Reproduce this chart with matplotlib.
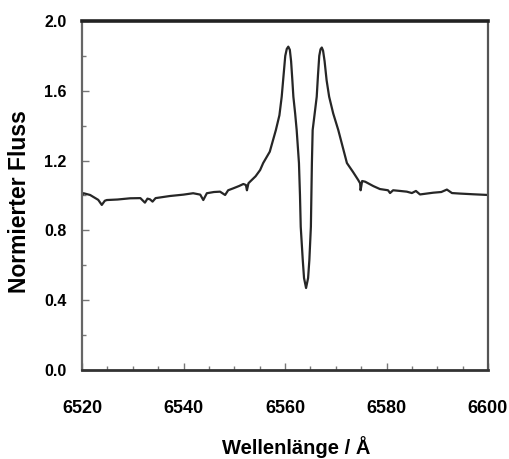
import matplotlib.pyplot as plt
from matplotlib.ticker import MultipleLocator

# spectrum (wavelength in Angstrom, normalised flux)
wavelength = [6520.0, 6520.3, 6521.6, 6523.2, 6523.9, 6524.5, 6524.9, 6527.0, 6529.5,
              6531.5, 6532.4, 6532.9, 6533.4, 6533.9, 6534.5, 6537.3, 6540.0, 6541.9,
              6543.3, 6543.9, 6544.6, 6546.0, 6547.2, 6548.2, 6548.8, 6549.8, 6551.0,
              6551.8, 6552.3, 6552.5, 6552.8, 6553.1, 6554.2, 6555.1, 6555.7, 6557.0,
              6558.2, 6558.9, 6559.35, 6559.75, 6560.05, 6560.35, 6560.65, 6560.95, 6561.2,
              6561.45, 6561.65, 6562.0, 6562.3, 6562.75, 6562.95,
              6563.1, 6563.5, 6563.75, 6564.15, 6564.55, 6564.8, 6565.1, 6565.2, 6565.3,
              6565.45, 6565.85, 6566.25, 6566.5, 6566.75, 6567.0, 6567.25, 6567.5, 6567.8,
              6568.2, 6568.7, 6569.5, 6570.5, 6572.2,
              6573.4, 6574.4, 6574.8, 6574.9, 6575.2, 6575.8, 6577.4, 6578.7, 6580.3,
              6580.7, 6581.3, 6582.7, 6584.0, 6585.0, 6585.8, 6586.6, 6589.2, 6590.8,
              6591.9, 6592.9, 6594.5, 6597.1, 6600.0]
flux = [1.000, 1.013, 1.003, 0.975, 0.946, 0.970, 0.974, 0.977, 0.984,
        0.985, 0.959, 0.982, 0.978, 0.965, 0.985, 0.997, 1.005, 1.013,
        1.005, 0.974, 1.013, 1.020, 1.022, 1.003, 1.030, 1.041, 1.055,
        1.066, 1.060, 1.030, 1.070, 1.079, 1.110, 1.146, 1.186, 1.251,
        1.375, 1.460, 1.566, 1.700, 1.800, 1.840, 1.853, 1.835, 1.770,
        1.660, 1.566, 1.470, 1.375, 1.186, 1.003,
        0.821, 0.630, 0.527, 0.470, 0.527, 0.630, 0.821, 1.003, 1.186,
        1.375, 1.470, 1.566, 1.690, 1.800, 1.838, 1.848, 1.830, 1.770,
        1.660, 1.566, 1.470, 1.375, 1.186,
        1.135, 1.090, 1.070, 1.030, 1.083, 1.079, 1.054, 1.037, 1.030,
        1.014, 1.030, 1.026, 1.022, 1.014, 1.026, 1.006, 1.016, 1.020,
        1.034, 1.014, 1.011, 1.007, 1.003]

x_ticks = [6520, 6540, 6560, 6580, 6600]
y_ticks = [0.0, 0.4, 0.8, 1.2, 1.6, 2.0]

bold = ['Liberation Sans', 'DejaVu Sans']

fig = plt.figure(figsize=(5.09, 4.59), dpi=100)
ax = fig.add_axes([82 / 509, 89 / 459, 406 / 509, 349 / 459])

ax.plot(wavelength, flux, color='#262626', lw=1.6, solid_joinstyle='round')

ax.set_xlim(6520, 6600)
ax.set_ylim(0, 2.0)
ax.set_xticks(x_ticks)
ax.set_yticks(y_ticks)
ax.xaxis.set_minor_locator(MultipleLocator(5))
ax.yaxis.set_minor_locator(MultipleLocator(0.2))
ax.set_xticklabels([str(t) for t in x_ticks], family=bold, weight='bold', fontsize=13)
ax.set_yticklabels([f"{t:.1f}" for t in y_ticks], family=bold, weight='bold', fontsize=11.5)

ax.tick_params(axis='x', which='both', direction='in', color='#777777', pad=21.5)
ax.tick_params(axis='y', which='both', direction='in', color='#777777', pad=11)
ax.tick_params(which='major', length=5, width=1)
ax.tick_params(which='minor', length=3, width=1)

ax.spines['top'].set_linewidth(2.6)
ax.spines['top'].set_color('#222222')
ax.spines['bottom'].set_linewidth(2.0)
ax.spines['bottom'].set_color('#333333')
ax.spines['left'].set_linewidth(1.6)
ax.spines['left'].set_color('#666666')
ax.spines['right'].set_linewidth(1.6)
ax.spines['right'].set_color('#555555')

ax.set_xlabel("Wellenlänge / Å", family=bold, weight='bold', fontsize=14.5)
ax.xaxis.set_label_coords((296.5 - 82) / 406, -0.19)
ax.set_ylabel("Normierter Fluss", family=bold, weight='bold', fontsize=16.5)
ax.yaxis.set_label_coords(-0.125, 0.484)

fig.savefig("out.png", dpi=100)
